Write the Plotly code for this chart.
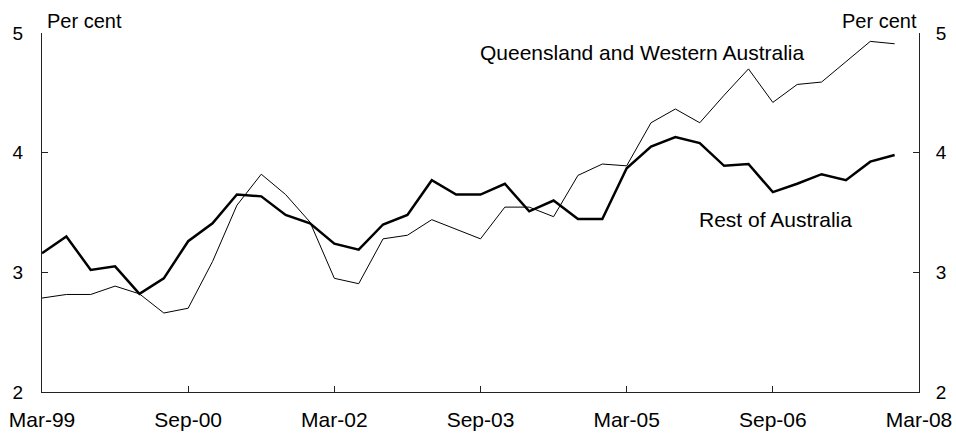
import plotly.graph_objects as go

# Quarterly observations, Mar-99 .. Dec-07
quarters = []
for yr in range(1999, 2008):
    for m in ["Mar", "Jun", "Sep", "Dec"]:
        quarters.append(f"{m}-{str(yr)[2:]}")

rest_of_australia = [3.16, 3.30, 3.02, 3.05, 2.82, 2.95, 3.26, 3.41,
                     3.65, 3.635, 3.48, 3.41, 3.24, 3.19, 3.40, 3.48,
                     3.77, 3.65, 3.65, 3.74, 3.51, 3.60, 3.445, 3.445,
                     3.87, 4.05, 4.13, 4.08, 3.89, 3.905, 3.67, 3.74,
                     3.82, 3.77, 3.925, 3.98]

qld_wa = [2.785, 2.815, 2.815, 2.885, 2.82, 2.66, 2.70, 3.09,
          3.56, 3.82, 3.65, 3.42, 2.95, 2.905, 3.28, 3.31,
          3.44, 3.36, 3.28, 3.545, 3.545, 3.465, 3.81, 3.905,
          3.89, 4.25, 4.365, 4.25, 4.48, 4.70, 4.42, 4.57,
          4.59, 4.76, 4.93, 4.91]

tick_labels = ["Mar-99", "Sep-00", "Mar-02", "Sep-03", "Mar-05", "Sep-06", "Mar-08"]
tick_pos = [0, 6, 12, 18, 24, 30, 36]
y_ticks = [2, 3, 4, 5]

xidx = list(range(len(quarters)))
FONT = "Liberation Sans, Arial, sans-serif"
FS_BIG = 21
FS_SMALL = 19

fig = go.Figure()
fig.add_trace(go.Scatter(x=xidx, y=qld_wa, mode="lines", name="Queensland and Western Australia",
                         line=dict(color="black", width=1), text=quarters, showlegend=False))
fig.add_trace(go.Scatter(x=xidx, y=rest_of_australia, mode="lines", name="Rest of Australia",
                         line=dict(color="black", width=2.5), text=quarters, showlegend=False))
fig.add_trace(go.Scatter(x=[xidx[0]], y=[rest_of_australia[0]], yaxis="y2", mode="lines",
                         line=dict(width=0), showlegend=False, hoverinfo="skip"))

axis_common = dict(showgrid=False, zeroline=False, showline=True, linecolor="#222222", linewidth=1,
                   ticks="inside", ticklen=6, tickcolor="#222222", automargin=False)

fig.update_layout(
    width=956, height=437,
    margin=dict(l=42, r=37, t=33, b=45, autoexpand=False),
    paper_bgcolor="white", plot_bgcolor="white",
    xaxis=dict(range=[0, 36], tickvals=tick_pos, ticktext=tick_labels, ticklabelstandoff=9,
               tickfont=dict(family=FONT, size=FS_BIG, color="black"), **axis_common),
    yaxis=dict(range=[2, 5], tickvals=y_ticks, ticklabelstandoff=14,
               tickfont=dict(family=FONT, size=FS_SMALL, color="black"), **axis_common),
    yaxis2=dict(range=[2, 5], tickvals=y_ticks, overlaying="y", side="right", ticklabelstandoff=12,
                tickfont=dict(family=FONT, size=FS_SMALL, color="black"), **axis_common),
    annotations=[
        dict(text="Per cent", xref="paper", yref="paper", x=0.0, y=1.0, xanchor="left", yanchor="middle",
             xshift=3, yshift=12, showarrow=False, font=dict(family=FONT, size=20, color="black")),
        dict(text="Per cent", xref="paper", yref="paper", x=1.0, y=1.0, xanchor="right", yanchor="middle",
             xshift=0, yshift=12, showarrow=False, font=dict(family=FONT, size=20, color="black")),
        dict(text="Queensland and Western Australia", xref="x", yref="y", x=17.9, y=4.84,
             xanchor="left", yanchor="middle", showarrow=False,
             font=dict(family=FONT, size=FS_BIG, color="black")),
        dict(text="Rest of Australia", xref="x", yref="y", x=26.9, y=3.44,
             xanchor="left", yanchor="middle", showarrow=False,
             font=dict(family=FONT, size=FS_BIG, color="black")),
    ],
)

fig.write_html("out.html", config={"displayModeBar": False},
               post_script="document.body.style.margin='0';document.body.style.overflow='hidden';")
